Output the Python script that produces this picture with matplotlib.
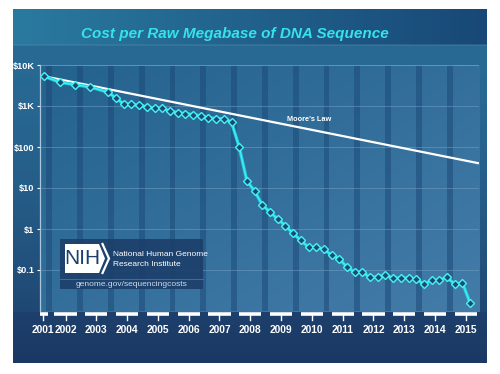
import numpy as np
import matplotlib
matplotlib.use("Agg")
import matplotlib.pyplot as plt
from matplotlib.patches import Polygon, Rectangle
import matplotlib.transforms as mtransforms

# ---------------- data ----------------
dates = ["2001-09", "2002-03", "2002-09", "2003-03", "2003-10",
         "2004-01", "2004-04", "2004-07", "2004-10",
         "2005-01", "2005-04", "2005-07", "2005-10",
         "2006-01", "2006-04", "2006-07", "2006-10",
         "2007-01", "2007-04", "2007-07", "2007-10",
         "2008-01", "2008-04", "2008-07", "2008-10",
         "2009-01", "2009-04", "2009-07", "2009-10",
         "2010-01", "2010-04", "2010-07", "2010-10",
         "2011-01", "2011-04", "2011-07", "2011-10",
         "2012-01", "2012-04", "2012-07", "2012-10",
         "2013-01", "2013-04", "2013-07", "2013-10",
         "2014-01", "2014-04", "2014-07", "2014-10",
         "2015-01", "2015-04", "2015-07"]
cost_per_mb = [5300, 3800, 3300, 2900, 2150,
               1550, 1120, 1110, 1040,
               960, 880, 880, 760,
               690, 650, 620, 570,
               515, 495, 490, 405,
               100, 14.8, 8.4, 3.85,
               2.6, 1.75, 1.2, 0.78,
               0.53, 0.36, 0.36, 0.32,
               0.23, 0.19, 0.116, 0.089,
               0.089, 0.066, 0.069, 0.074,
               0.064, 0.064, 0.064, 0.060,
               0.045, 0.057, 0.057, 0.066,
               0.045, 0.048, 0.0155]
moore_dates = [2001.667, 2015.786]
moore_cost = [5300, 40]
year_labels = ["2001", "2002", "2003", "2004", "2005", "2006", "2007", "2008",
               "2009", "2010", "2011", "2012", "2013", "2014", "2015"]
ytick_vals = [0.1, 1, 10, 100, 1000, 10000]
ytick_labels = ["$0.1", "$1", "$10", "$100", "$1K", "$10K"]
title = "Cost per Raw Megabase of DNA Sequence"

t = np.array([int(d[:4]) + (int(d[5:]) - 1) / 12.0 for d in dates])

W, H = 500, 374
fig = plt.figure(figsize=(W / 100, H / 100), dpi=100)
fig.patch.set_facecolor("white")

# ---------------- background painting (pixel coordinates) ----------------
bg = fig.add_axes([0, 0, 1, 1], zorder=0)
bg.set_xlim(0, W)
bg.set_ylim(H, 0)
bg.axis("off")

px0, px1, py0, py1 = 13, 487, 9, 363
img = np.zeros((py1 - py0, px1 - px0, 3))
yy, xx = np.mgrid[py0:py1, px0:px1].astype(float)


def lerp(c0, c1, f):
    c0 = np.array(c0) / 255.0
    c1 = np.array(c1) / 255.0
    return c0[None, None, :] * (1 - f[..., None]) + c1[None, None, :] * f[..., None]


fv = np.clip((yy - 45) / (363 - 45), 0, 1)
base = lerp((40, 106, 148), (28, 60, 104), fv ** 1.6)
below = yy > 311
base[below] = lerp((30, 64, 108), (27, 56, 100), np.clip((yy - 311) / 52, 0, 1))[below]
img[:] = base
tb = yy < 45
fh = (xx - px0) / (px1 - px0)
band = lerp((42, 122, 160), (24, 72, 118), fh)
img[tb] = band[tb]
edge = (yy >= 44) & (yy < 46)
img[edge] = img[edge] * 0.7 + np.array([0.35, 0.55, 0.68]) * 0.3
pa = (xx >= 40) & (xx <= 479) & (yy >= 65) & (yy <= 311)
fd = np.clip(((xx - 40) / 439 * 0.5 + (yy - 65) / 246 * 0.5), 0, 1)
pcol = lerp((36, 98, 142), (68, 124, 168), fd)
img[pa] = pcol[pa]
bg.imshow(img, extent=(px0, px1, py1, py0), aspect="auto", interpolation="bilinear")

# ---------------- main axes ----------------
L, R, T, B = 40, 479, 65, 311
ax = fig.add_axes([L / W, 1 - B / H, (R - L) / W, (B - T) / H], zorder=1)
ax.patch.set_alpha(0)
ax.set_yscale("log")
ax.set_ylim(0.01, 10000)
ax.set_xlim(2001.532, 2015.786)

for y in range(2001, 2015):
    ax.axvspan(y + 0.74, y + 0.93, color=(0.11, 0.29, 0.47), alpha=0.55, lw=0, zorder=0.5)

for v in ytick_vals + [10000]:
    ax.axhline(v, color=(0.45, 0.63, 0.78), lw=0.6, alpha=0.6, zorder=0.6)

ax.plot(moore_dates, moore_cost, color="white", lw=1.6, zorder=2, solid_capstyle="butt")
ax.text(2010.27, 480, "Moore's Law", color="white", fontsize=5.3, fontweight="bold",
        ha="center", va="center", zorder=3, family=["Liberation Sans", "DejaVu Sans"])

ax.plot(t, cost_per_mb, color="#1fc9d8", lw=2.4, zorder=3, solid_joinstyle="round")
ax.plot(t, cost_per_mb, color="#3eeef4", lw=1.1, zorder=3.1, solid_joinstyle="round",
        marker="D", markersize=4.2, markerfacecolor="#1c4b6f",
        markeredgecolor="#45f2f6", markeredgewidth=1.0)

for s in ["top", "right", "bottom"]:
    ax.spines[s].set_visible(False)
ax.spines["left"].set_color("#a9c6de")
ax.spines["left"].set_linewidth(0.9)

ax.set_yticks(ytick_vals)
ax.set_yticklabels(ytick_labels)
ax.yaxis.set_minor_locator(matplotlib.ticker.NullLocator())
ax.tick_params(axis="y", colors="white", length=2.5, width=0.8, pad=1.5, labelsize=6.6)
for lab in ax.get_yticklabels():
    lab.set_fontweight("bold")
    lab.set_family(["Liberation Sans", "DejaVu Sans"])
ax.set_xticks([])

trans = mtransforms.blended_transform_factory(ax.transData, ax.transAxes)
tick_pos = [2001.63] + [int(y) + 0.36 for y in year_labels[1:]]
for i, (p, lab) in enumerate(zip(tick_pos, year_labels)):
    if i == 0:
        x0, x1 = 2001.532, 2001.78
    else:
        x0, x1 = p - 0.36, p + 0.36
    ax.plot([x0, x1], [-0.012, -0.012], color="white", lw=2.6, transform=trans,
            clip_on=False, solid_capstyle="butt", zorder=4)
    ax.plot([p, p], [-0.012, -0.037], color="white", lw=1.0, transform=trans,
            clip_on=False, zorder=4)
    ax.text(p, -0.077, lab, transform=trans, ha="center", va="center", color="white",
            fontsize=7.4, fontweight="bold",
            family=["Liberation Sans Narrow", "Liberation Sans", "DejaVu Sans"])

# ---------------- overlay: title and NIH logo ----------------
ov = fig.add_axes([0, 0, 1, 1], zorder=5)
ov.set_xlim(0, W)
ov.set_ylim(H, 0)
ov.axis("off")
ov.patch.set_alpha(0)

ov.text(234.5, 33.5, title, color="#35e2ee", fontsize=11, fontweight="bold",
        fontstyle="italic", ha="center", va="center",
        family=["Liberation Sans", "DejaVu Sans"])

ov.add_patch(Rectangle((60, 239), 143, 50, facecolor=(0.11, 0.25, 0.42), alpha=0.93,
                       edgecolor="none"))
ov.plot([60, 203], [278.5, 278.5], color=(0.3, 0.45, 0.6), lw=0.6)
ov.add_patch(Polygon([(65, 244), (99, 244), (105, 258.5), (99, 273), (65, 273)],
                     closed=True, facecolor="white", edgecolor="none"))
ov.plot([102.5, 109, 102.5], [244, 258.5, 273], color="white", lw=1.6,
        solid_joinstyle="miter")
ov.text(82.5, 259, "NIH", color=(0.11, 0.25, 0.42), fontsize=15, ha="center",
        va="center", family=["Liberation Sans Narrow", "Liberation Sans", "DejaVu Sans"])
ov.text(113, 254, "National Human Genome", color="white", fontsize=6, ha="left",
        va="center", family=["Liberation Sans", "DejaVu Sans"])
ov.text(113, 264.5, "Research Institute", color="white", fontsize=6, ha="left",
        va="center", family=["Liberation Sans", "DejaVu Sans"])
ov.text(131, 284, "genome.gov/sequencingcosts", color=(0.8, 0.86, 0.92), fontsize=6,
        ha="center", va="center", family=["Liberation Sans", "DejaVu Sans"])

fig.savefig("out.png", dpi=100)
